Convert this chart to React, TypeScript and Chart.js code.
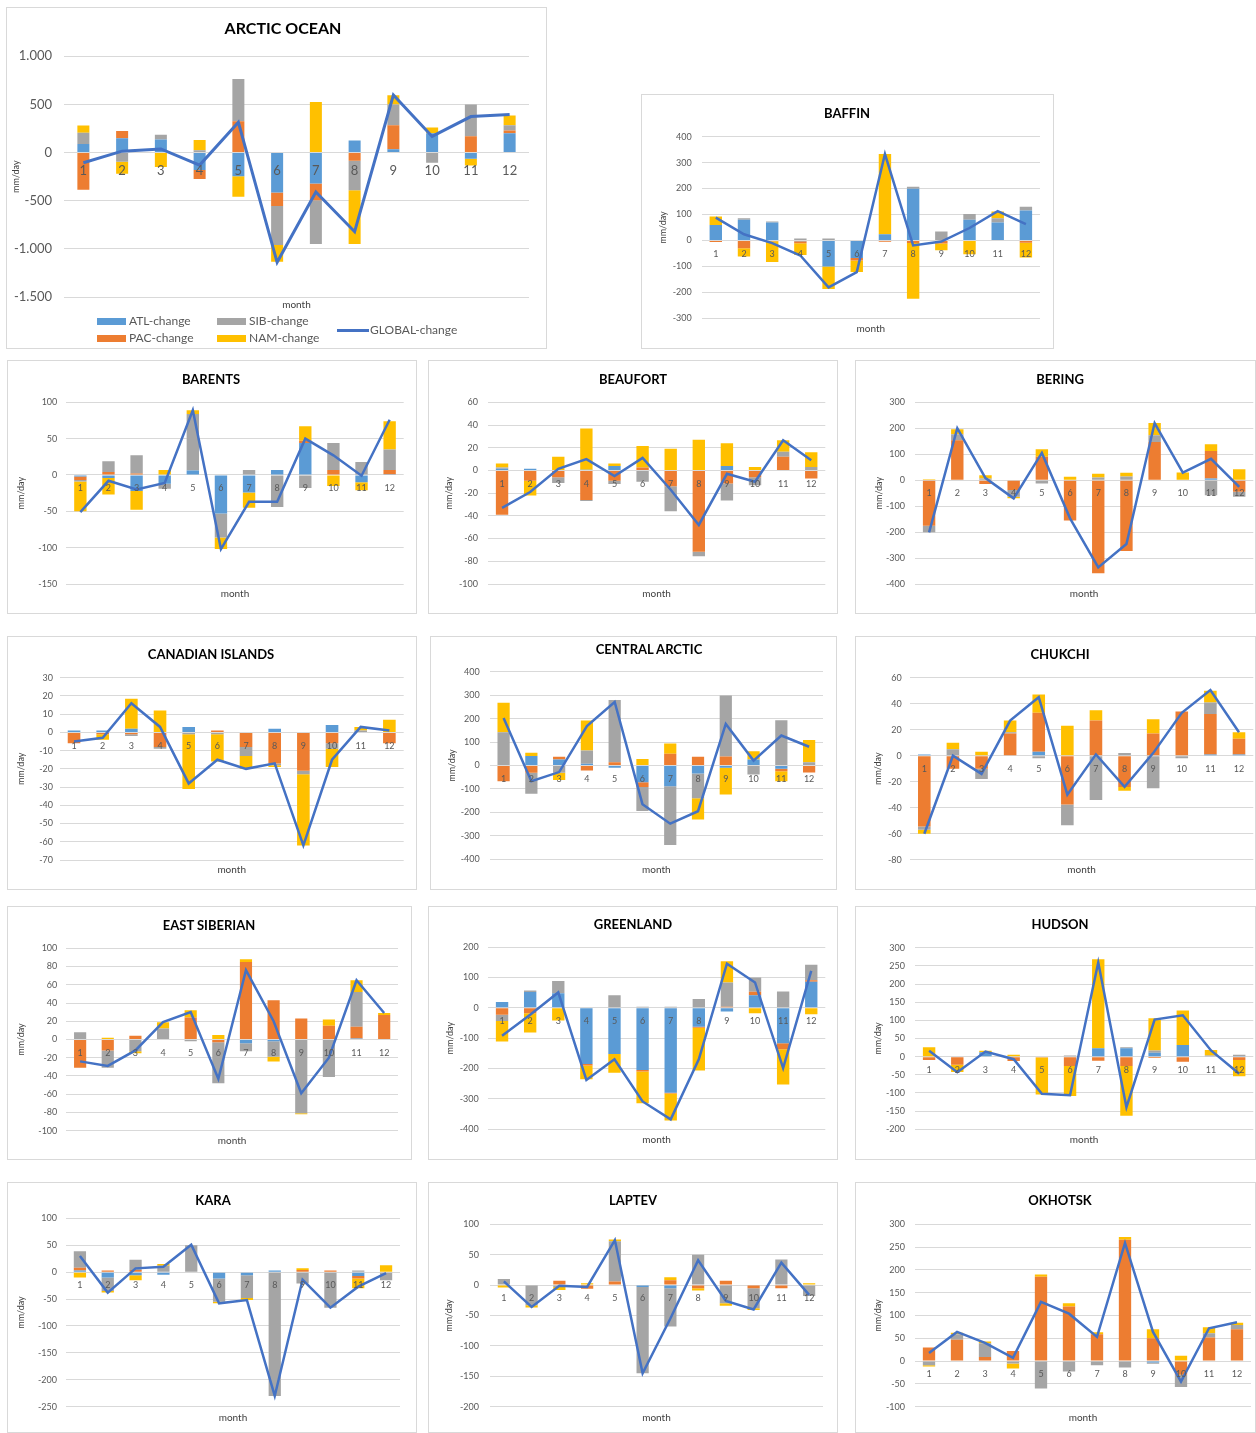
import React, { useEffect, useRef } from 'react';
import { Chart, registerables } from 'chart.js';

Chart.register(...registerables);

const MONTHS = ['1', '2', '3', '4', '5', '6', '7', '8', '9', '10', '11', '12'];

// ---------- data (mm/day) ----------
const arcticATL = [90, 150, 135, -180, -245, -415, -320, 125, 35, 200, -65, 200];
const arcticPAC = [-385, 75, 0, -95, 325, -140, -175, -85, 250, 0, 170, 30];
const arcticSIB = [115, -95, 50, 25, 440, -405, -455, -305, 215, -105, 330, 55];
const arcticNAM = [75, -125, -150, 105, -215, -175, 525, -560, 95, 60, -70, 100];
const arcticGLOBAL = [-105, 15, 38, -130, 315, -1140, -410, -822, 598, 168, 374, 395];

const baffinATL = [60, 80, 69, -3, -100, -68, 24, 199, 0, 80, 69, 116];
const baffinPAC = [-6, -30, -3, -8, 0, -9, -5, -10, -12, 0, 0, -9];
const baffinSIB = [0, 6, 4, 8, 8, 0, 0, 8, 35, 22, 17, 14];
const baffinNAM = [32, -32, -80, -45, -87, -45, 309, -215, -26, -53, 26, -57];
const baffinGLOBAL = [88, 24, -10, -58, -181, -122, 333, -19, -4, 48, 113, 63];

const barentsATL = [-2, -4, -22, -12, 6, -53, -24, 7, 44, 0, -10, 1];
const barentsPAC = [-5, 4, 2, 0, 0, 0, 0, 0, 3, 7, 0, 6];
const barentsSIB = [-2, 15, 25, -7, 78, -33, 7, -44, -18, 37, 18, 28];
const barentsNAM = [-41, -23, -26, 7, 5, -16, -21, 0, 20, -15, -11, 39];
const barentsGLOBAL = [-51, -8, -20, -11, 89, -102, -37, -37, 50, 27, -1, 76];

const beaufortATL = [1.5, 1.5, 0, 0.5, 4, 0, 0, -0.5, 4, 0, 0, 0];
const beaufortPAC = [-39, -9, -6, -26, -9, 2.5, -14, -71, -11.5, -6, 12, -7];
const beaufortSIB = [1, 0, -5, -1, -3, -10, -22, -4, -15, -7, 4.5, 3];
const beaufortNAM = [3.5, -13, 12, 36.5, 2, 19, 19, 27, 20, 3, 10, 13];
const beaufortGLOBAL = [-33, -19, 1.5, 10, -5, 11, -17, -48, -3, -10, 26.5, 9];

const beringATL = [0, 0, 0, 0, -2, 0, 0, 0, 2, 0, 6, 2];
const beringPAC = [-176, 154, -15, -38, 90, -155, -359, -273, 145, 0, 106, -45];
const beringSIB = [-25, 23, 6, -26, -11, 0, 10, 14, 26, 0, -58, -19];
const beringNAM = [4, 19, 13, -6, 29, 13, 15, 15, 47, 30, 26, 40];
const beringGLOBAL = [-201, 200, 8, -70, 105, -147, -336, -246, 220, 29, 82, -26];

const canadianATL = [1, 1, 2, 0, 3, 0, 0, 2, 0, 4, 0, 0];
const canadianPAC = [-6, -1, -1, -8, 0, 1, -8, -17, -21, -6, 0, -6];
const canadianSIB = [0, 0, -1, -1, -1, -1, -5, -1, -2, -3, 1, 0];
const canadianNAM = [0, -3, 16.5, 12, -30, -15, -7, -1, -39, -10, 2, 7];
const canadianGLOBAL = [-5, -3, 16, 3, -28, -15, -20, -17, -62, -15, 3, 1];

const centralATL = [0, 40, 26, 7, -10, -71, -88, -34, -10, 26, -14, 0];
const centralPAC = [-67, -31, 11, -21, 14, -21, 50, 37, 38, 0, -10, -30];
const centralSIB = [142, -89, -31, 57, 265, -102, -251, -106, 260, -38, 193, 14];
const centralNAM = [126, 14, -31, 128, 0, 28, 44, -90, -114, 35, -43, 95];
const centralGLOBAL = [203, -67, -28, 168, 271, -165, -248, -195, 177, 21, 128, 80];

const chukchiATL = [1, 0, 0, 0, 3, 0, 0, 0, 0, 0, 1, 1];
const chukchiPAC = [-54.5, -10, -10, 17, 30, -37.5, 27, -24, 17, 34, 31, 12];
const chukchiSIB = [-2.5, 5, -8, 1, -2, -16, -34, 2, -25, -2, 9, 0];
const chukchiNAM = [-3, 5, 3, 9, 14, 23, 8, -3, 11, 0, 9, 5];
const chukchiGLOBAL = [-60, 0, -14, 27, 45, -30, 1, -24, 2, 33, 50.5, 18];

const eastSibATL = [0, 0, 0, 0, 0, 0, -4, -2, 0, 0, 1, 0];
const eastSibPAC = [-31, -12, 4, 0, 24, -3, 85, 43, 23, 15, 13, 27];
const eastSibSIB = [8, -19, -13, 12, -2, -45, -9, -17, -81, -41, 38, 0];
const eastSibNAM = [0, 2, -2, 7, 8, 5, 3, -5, -1, 7, 13, 2];
const eastSibGLOBAL = [-24, -29, -12, 19, 30, -43, 76, 20, -59, -20, 65, 29];

const greenlandATL = [19, 52, 48, -185, -152, -205, -280, -62, -12, 42, -117, 86];
const greenlandPAC = [-23, -18, 0, -5, 0, -5, -3, -4, 4, 11, -20, 5];
const greenlandSIB = [-20, 5, 41, 0, 42, 4, 4, 29, 80, 47, 54, 51];
const greenlandNAM = [-68, -63, -42, -46, -62, -105, -89, -141, 70, -18, -116, -21];
const greenlandGLOBAL = [-92, -23, 51, -238, -170, -309, -368, -170, 146, 84, -199, 122];

const hudsonATL = [0, 0, 12, 0, 0, 0, 23, 23, 11, 32, 0, 2];
const hudsonPAC = [-9, -22, 0, -12, -2, -26, -11, -26, -4, -14, 0, -9];
const hudsonSIB = [0, 0, 0, 0, 0, 3, 0, 3, 6, 0, 3, 3];
const hudsonNAM = [26, -20, 4, 5, -102, -82, 245, -137, 89, 95, 15, -45];
const hudsonGLOBAL = [16, -43, 14, -7, -102, -106, 259, -139, 102, 114, 17, -47];

const karaATL = [3, -10, -6, -5, 0, -12, -6, 3, 0, 0, -7, 0];
const karaPAC = [5, 3, 4, 0, 0, 0, 0, 0, 4, 3, -5, 0];
const karaSIB = [31, -25, 19, 12, 50, -43, -42, -230, -21, -66, 3, -15];
const karaNAM = [-10, -3, -9, 3, 0, -3, -4, 0, 3, 0, -18, 13];
const karaGLOBAL = [30, -38, 7, 10, 51, -58, -52, -230, -14, -66, -27, -2];

const laptevATL = [0, 0, 0, 0, 0, -3, -5, 0, 0, 0, 0, 0];
const laptevPAC = [0, 0, 7, -6, 6, 0, 8, -5, 7, -5, -5, 0];
const laptevSIB = [10, -33, -3, 0, 66, -142, -63, 50, -30, -33, 42, -18];
const laptevNAM = [-4, -4, -5, 3, 3, 0, 5, -4, -4, -3, 0, 3];
const laptevGLOBAL = [6, -36, -1, -3, 74, -145, -55, 41, -26, -40, 37, -16];

const okhotskATL = [0, 0, 0, 0, 0, 0, 0, 0, -3, 0, 0, 0];
const okhotskPAC = [30, 47, 9, 22, 185, 120, 59, 266, 50, -30, 52, 70];
const okhotskSIB = [-9, 12, 30, -5, -60, -23, -9, -14, -3, -27, 9, 9];
const okhotskNAM = [-3, 3, 4, -11, 5, 7, 4, 6, 20, 12, 13, 5];
const okhotskGLOBAL = [18, 64, 40, 7, 130, 104, 53, 259, 64, -45, 72, 85];

// ---------- styles ----------
const C_ATL = '#5B9BD5';
const C_PAC = '#ED7D31';
const C_SIB = '#A5A5A5';
const C_NAM = '#FFC000';
const C_GLOBAL = '#4472C4';
const FONT = 'Lato, "Open Sans", sans-serif';

interface PanelDef {
  title: string;
  atl: number[];
  pac: number[];
  sib: number[];
  nam: number[];
  glob: number[];
  min: number;
  max: number;
  step: number;
  big?: boolean;
  box: [number, number, number, number];
  gridTop: number;
  gridBottom: number;
  gridLeft: number;
  gridRight: number;
  titleX: number; // absolute page x of title centre
  titleY: number;
  monthY: number;
  mmX: number;
  tickRight: number;
}

const PANELS: PanelDef[] = [
  { title: 'ARCTIC OCEAN', atl: arcticATL, pac: arcticPAC, sib: arcticSIB, nam: arcticNAM, glob: arcticGLOBAL, min: -1500, max: 1000, step: 500, big: true,
    box: [6, 7, 541, 342], gridTop: 48.3, gridBottom: 289, gridLeft: 57, gridRight: 522, titleX: 283, titleY: 19.3, monthY: 296, mmX: 8.6, tickRight: 45 },
  { title: 'BAFFIN', atl: baffinATL, pac: baffinPAC, sib: baffinSIB, nam: baffinNAM, glob: baffinGLOBAL, min: -300, max: 400, step: 100,
    box: [641, 94, 413, 255], gridTop: 41.7, gridBottom: 223.3, gridLeft: 59.7, gridRight: 398, titleX: 847, titleY: 18.3, monthY: 233.3, mmX: 21, tickRight: 49.7 },
  { title: 'BARENTS', atl: barentsATL, pac: barentsPAC, sib: barentsSIB, nam: barentsNAM, glob: barentsGLOBAL, min: -150, max: 100, step: 50,
    box: [7, 360, 410, 254], gridTop: 41.3, gridBottom: 223, gridLeft: 58.3, gridRight: 395.7, titleX: 211, titleY: 18.3, monthY: 232.3, mmX: 13.3, tickRight: 49.3 },
  { title: 'BEAUFORT', atl: beaufortATL, pac: beaufortPAC, sib: beaufortSIB, nam: beaufortNAM, glob: beaufortGLOBAL, min: -100, max: 60, step: 20,
    box: [428, 360, 410, 254], gridTop: 41.3, gridBottom: 223, gridLeft: 59, gridRight: 396.3, titleX: 633, titleY: 18.3, monthY: 232.3, mmX: 19.7, tickRight: 49 },
  { title: 'BERING', atl: beringATL, pac: beringPAC, sib: beringSIB, nam: beringNAM, glob: beringGLOBAL, min: -400, max: 300, step: 100,
    box: [855, 360, 401, 254], gridTop: 41.3, gridBottom: 223, gridLeft: 59, gridRight: 397.3, titleX: 1060, titleY: 18.3, monthY: 232.3, mmX: 23, tickRight: 49 },
  { title: 'CANADIAN ISLANDS', atl: canadianATL, pac: canadianPAC, sib: canadianSIB, nam: canadianNAM, glob: canadianGLOBAL, min: -70, max: 30, step: 10,
    box: [7, 636, 410, 254], gridTop: 40.7, gridBottom: 223, gridLeft: 51.7, gridRight: 395.7, titleX: 211, titleY: 18, monthY: 232.3, mmX: 12.7, tickRight: 45 },
  { title: 'CENTRAL ARCTIC', atl: centralATL, pac: centralPAC, sib: centralSIB, nam: centralNAM, glob: centralGLOBAL, min: -400, max: 400, step: 100,
    box: [430, 636, 407, 254], gridTop: 34.7, gridBottom: 222.3, gridLeft: 58.7, gridRight: 392, titleX: 649, titleY: 13, monthY: 232.3, mmX: 21, tickRight: 48.7 },
  { title: 'CHUKCHI', atl: chukchiATL, pac: chukchiPAC, sib: chukchiSIB, nam: chukchiNAM, glob: chukchiGLOBAL, min: -80, max: 60, step: 20,
    box: [855, 636, 401, 254], gridTop: 40.7, gridBottom: 222.7, gridLeft: 54, gridRight: 397.3, titleX: 1060, titleY: 18, monthY: 232.3, mmX: 22.3, tickRight: 45.7 },
  { title: 'EAST SIBERIAN', atl: eastSibATL, pac: eastSibPAC, sib: eastSibSIB, nam: eastSibNAM, glob: eastSibGLOBAL, min: -100, max: 100, step: 20,
    box: [7, 906, 405, 254], gridTop: 41.3, gridBottom: 223.7, gridLeft: 58.3, gridRight: 390, titleX: 209, titleY: 18.7, monthY: 233, mmX: 13.3, tickRight: 49.3 },
  { title: 'GREENLAND', atl: greenlandATL, pac: greenlandPAC, sib: greenlandSIB, nam: greenlandNAM, glob: greenlandGLOBAL, min: -400, max: 200, step: 100,
    box: [428, 906, 410, 254], gridTop: 40.3, gridBottom: 222, gridLeft: 59, gridRight: 396.3, titleX: 633, titleY: 17.3, monthY: 232.3, mmX: 20.7, tickRight: 49.7 },
  { title: 'HUDSON', atl: hudsonATL, pac: hudsonPAC, sib: hudsonSIB, nam: hudsonNAM, glob: hudsonGLOBAL, min: -200, max: 300, step: 50,
    box: [855, 906, 401, 254], gridTop: 40.7, gridBottom: 222.3, gridLeft: 59, gridRight: 397.3, titleX: 1060, titleY: 17.3, monthY: 232.3, mmX: 22.3, tickRight: 49 },
  { title: 'KARA', atl: karaATL, pac: karaPAC, sib: karaSIB, nam: karaNAM, glob: karaGLOBAL, min: -250, max: 100, step: 50,
    box: [7, 1182, 410, 251], gridTop: 35.3, gridBottom: 223.7, gridLeft: 58, gridRight: 392, titleX: 213, titleY: 17.7, monthY: 233.7, mmX: 13, tickRight: 49 },
  { title: 'LAPTEV', atl: laptevATL, pac: laptevPAC, sib: laptevSIB, nam: laptevNAM, glob: laptevGLOBAL, min: -200, max: 100, step: 50,
    box: [428, 1182, 410, 251], gridTop: 41.3, gridBottom: 223.7, gridLeft: 61, gridRight: 394, titleX: 633, titleY: 17.7, monthY: 233.7, mmX: 20, tickRight: 50 },
  { title: 'OKHOTSK', atl: okhotskATL, pac: okhotskPAC, sib: okhotskSIB, nam: okhotskNAM, glob: okhotskGLOBAL, min: -100, max: 300, step: 50,
    box: [855, 1182, 401, 251], gridTop: 41.3, gridBottom: 223.7, gridLeft: 59, gridRight: 395, titleX: 1060, titleY: 17.7, monthY: 233.7, mmX: 22, tickRight: 49 },
];

function fmtThousands(v: number): string {
  const s = Math.abs(v).toString().replace(/\B(?=(\d{3})+(?!\d))/g, '.');
  return (v < 0 ? '-' : '') + s;
}

function PanelChart({ p }: { p: PanelDef }) {
  const ref = useRef<HTMLCanvasElement>(null);
  const W = p.box[2] - 2;
  const H = p.box[3] - 2;
  const big = !!p.big;
  const titleSize = big ? 16 : 13;
  const subSize = 10;
  useEffect(() => {
    if (!ref.current) return;
    const tickSize = big ? 13 : 9;
    const mmSize = 9;
    const mmLH = mmSize * 1.2;
    const padLeft = Math.max(0, p.mmX - mmLH / 2);
    const barPct = big ? 0.31 : 0.44;
    const barDs = (label: string, data: number[], color: string) => ({
      type: 'bar' as const,
      label,
      data,
      backgroundColor: color,
      borderWidth: 0,
      categoryPercentage: 1,
      barPercentage: barPct,
      order: 1,
    });
    const chart = new Chart(ref.current, {
      type: 'bar',
      data: {
        labels: MONTHS,
        datasets: [
          barDs('ATL-change', p.atl, C_ATL),
          barDs('PAC-change', p.pac, C_PAC),
          barDs('SIB-change', p.sib, C_SIB),
          barDs('NAM-change', p.nam, C_NAM),
          {
            type: 'line' as const,
            label: 'GLOBAL-change',
            data: p.glob,
            borderColor: C_GLOBAL,
            backgroundColor: C_GLOBAL,
            borderWidth: big ? 3 : 2.5,
            pointRadius: 0,
            tension: 0,
            stack: 'global',
            order: 0,
          } as any,
        ],
      },
      options: {
        responsive: false,
        animation: false,
        devicePixelRatio: 1,
        layout: { padding: { left: padLeft, right: W - p.gridRight, top: p.gridTop, bottom: H - p.gridBottom } },
        plugins: {
          legend: { display: false },
          tooltip: { enabled: false },
          title: { display: false },
          subtitle: { display: false },
        },
        scales: {
          x: {
            stacked: true,
            position: { y: 0 } as any,
            grid: { display: false, drawTicks: false },
            border: { display: false },
            ticks: {
              color: '#595959',
              font: { family: FONT, size: tickSize },
              padding: big ? 10 : 8,
              maxRotation: 0,
              autoSkip: false,
              z: 1,
            },
          },
          y: {
            stacked: true,
            min: p.min,
            max: p.max,
            grid: { color: '#d9d9d9', drawTicks: false, lineWidth: 1 },
            border: { display: false },
            ticks: {
              stepSize: p.step,
              color: '#595959',
              font: { family: FONT, size: tickSize },
              padding: p.gridLeft - p.tickRight,
              callback: (v: any) => (big ? fmtThousands(Number(v)) : String(v)),
            },
            title: {
              display: true,
              text: 'mm/day',
              color: '#404040',
              font: { family: FONT, size: mmSize },
              padding: 0,
            },
            afterFit: (scale: any) => {
              scale.width = p.gridLeft - padLeft;
            },
          },
        },
      } as any,
    });
    return () => chart.destroy();
  }, [p]);
  const titleLeft = p.titleX - (p.box[0] + 1);
  const monthCenter = (p.gridLeft + p.gridRight) / 2;
  return (
    <div
      style={{
        position: 'absolute',
        left: p.box[0],
        top: p.box[1],
        width: p.box[2],
        height: p.box[3],
        border: '1px solid #d9d9d9',
        boxSizing: 'border-box',
        background: '#ffffff',
      }}
    >
      <canvas ref={ref} width={W} height={H} style={{ display: 'block', width: W, height: H }} />
      <div
        style={{
          position: 'absolute',
          left: titleLeft - 200,
          width: 400,
          top: p.titleY - titleSize * 0.6,
          height: titleSize * 1.2,
          lineHeight: `${titleSize * 1.2}px`,
          textAlign: 'center',
          fontFamily: FONT,
          fontWeight: 'bold',
          fontSize: titleSize,
          color: '#000000',
          whiteSpace: 'nowrap',
          pointerEvents: 'none',
        }}
      >
        {p.title}
      </div>
      <div
        style={{
          position: 'absolute',
          left: monthCenter - 50,
          width: 100,
          top: p.monthY - subSize * 0.6,
          height: subSize * 1.2,
          lineHeight: `${subSize * 1.2}px`,
          textAlign: 'center',
          fontFamily: FONT,
          fontSize: subSize,
          color: '#404040',
          whiteSpace: 'nowrap',
          pointerEvents: 'none',
        }}
      >
        month
      </div>
    </div>
  );
}

const LEGEND_BOXES = [
  { label: 'ATL-change', color: C_ATL, x: 97, y: 321 },
  { label: 'SIB-change', color: C_SIB, x: 217, y: 321 },
  { label: 'PAC-change', color: C_PAC, x: 97, y: 338 },
  { label: 'NAM-change', color: C_NAM, x: 217, y: 338 },
];

function ArcticLegend() {
  const textStyle: React.CSSProperties = {
    position: 'absolute',
    fontFamily: FONT,
    fontSize: 12,
    color: '#595959',
    lineHeight: '14px',
    whiteSpace: 'nowrap',
  };
  return (
    <>
      {LEGEND_BOXES.map((b) => (
        <React.Fragment key={b.label}>
          <div style={{ position: 'absolute', left: b.x, top: b.y - 3.5, width: 29, height: 7, background: b.color }} />
          <div style={{ ...textStyle, left: b.x + 32, top: b.y - 7 }}>{b.label}</div>
        </React.Fragment>
      ))}
      <div style={{ position: 'absolute', left: 337, top: 328.5, width: 32, height: 3, background: C_GLOBAL }} />
      <div style={{ ...textStyle, left: 370, top: 323 }}>GLOBAL-change</div>
    </>
  );
}

export default function App() {
  return (
    <div style={{ position: 'absolute', left: 0, top: 0, width: 1256, height: 1433, background: '#ffffff', overflow: 'hidden' }}>
      {PANELS.map((p) => (
        <PanelChart key={p.title} p={p} />
      ))}
      <ArcticLegend />
    </div>
  );
}
